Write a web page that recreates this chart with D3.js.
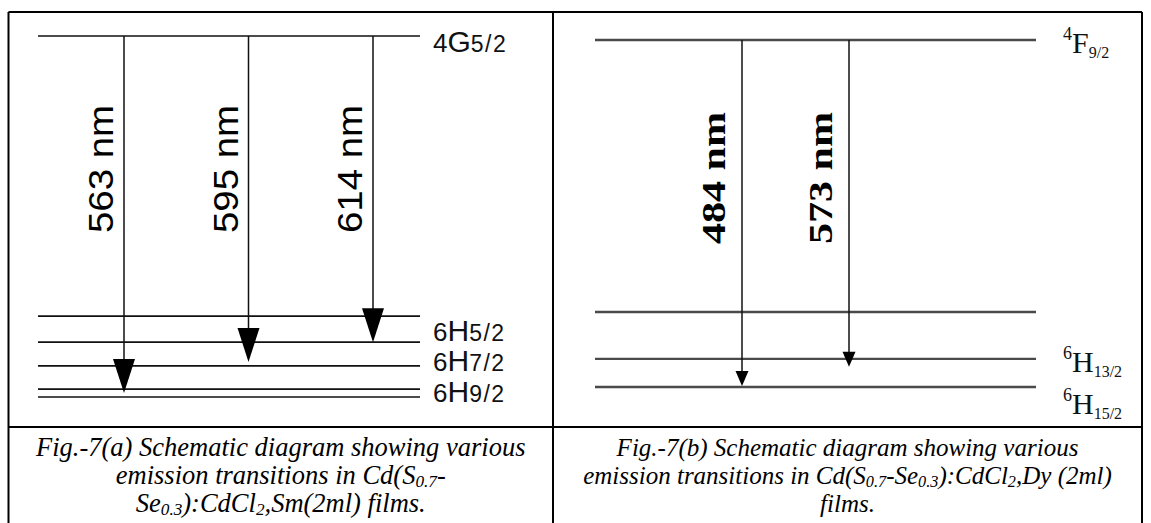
<!DOCTYPE html>
<html>
<head>
<meta charset="utf-8">
<script src="https://cdn.jsdelivr.net/npm/d3@7"></script>
<style>
  body { margin: 0; background: #fff; }
  svg { display: block; }
</style>
</head>
<body>
<svg id="chart" width="1151" height="523"></svg>
<script>
// (a) Sm3+ : schematic level heights, arbitrary units (upper level = 100)
const smLevels = [100, 22.4, 15.2, 8.6, 2.2, 0]
const smTerms = ['4G5/2', '6H5/2', '6H7/2', '6H9/2']
const smTermAt = [98.3, 18.3, 10.0, 1.4]
const smLines = ['563 nm', '595 nm', '614 nm']
const smLineTo = [1.1, 9.7, 15.2]

// (b) Dy3+
const dyLevels = [100, 21.6, 8.1, 0]
const dyTerms = ['4F9/2', '6H13/2', '6H15/2']
const dyTermAt = [99.1, 7.3, -4.8]
const dyLines = ['484 nm', '573 nm']
const dyLineTo = [0.3, 5.8]

const captionA = [
  'Fig.-7(a) Schematic diagram showing various',
  'emission transitions in Cd(S_{0.7}-',
  'Se_{0.3}):CdCl_{2},Sm(2ml) films.',
]
const captionB = [
  'Fig.-7(b) Schematic diagram showing various',
  'emission transitions in Cd(S_{0.7}-Se_{0.3}):CdCl_{2},Dy (2ml)',
  'films.',
]

const tableLeft = 8.5
const tableRight = 1142
const tableTop = 12
const tableMid = 553
const captionTop = 427

const svg = d3.select('#chart')

// table rules
const rules = [
  [tableLeft, tableTop, tableRight, tableTop],
  [tableLeft, captionTop, tableRight, captionTop],
  [tableLeft, tableTop, tableLeft, 523],
  [tableMid, tableTop, tableMid, 523],
  [tableRight, tableTop, tableRight, 523],
]
svg
  .append('g')
  .selectAll('line')
  .data(rules)
  .join('line')
  .attr('x1', (d) => d[0])
  .attr('y1', (d) => d[1])
  .attr('x2', (d) => d[2])
  .attr('y2', (d) => d[3])
  .attr('stroke', '#000')
  .attr('stroke-width', 2)

const splitTerm = (s) => s.match(/^(\d)([A-Z])(.+)$/).slice(1)

function drawPanel(p) {
  const g = svg.append('g')
  const y = d3.scaleLinear().domain([0, 100]).range(p.yRange)
  const x = d3.scalePoint().domain(p.lines).range(p.arrowRange)

  g.append('g')
    .selectAll('line')
    .data(p.levels)
    .join('line')
    .attr('x1', p.levelX[0])
    .attr('x2', p.levelX[1])
    .attr('y1', (d) => y(d))
    .attr('y2', (d) => y(d))
    .attr('stroke', p.levelColor)
    .attr('stroke-width', p.levelWidth)

  const arrows = g
    .append('g')
    .selectAll('g')
    .data(p.lines.map((name, i) => ({ name, to: p.lineTo[i] })))
    .join('g')

  arrows
    .append('line')
    .attr('x1', (d) => x(d.name))
    .attr('x2', (d) => x(d.name))
    .attr('y1', y(100))
    .attr('y2', (d) => y(d.to) - p.head[1] + 2)
    .attr('stroke', '#111')
    .attr('stroke-width', 1.5)

  arrows
    .append('path')
    .attr('d', (d) => {
      const cx = x(d.name)
      const tip = y(d.to)
      const w = p.head[0] / 2
      return `M${cx - w},${tip - p.head[1]}L${cx + w},${tip - p.head[1]}L${cx},${tip}Z`
    })
    .attr('fill', '#000')

  arrows
    .append('text')
    .attr(
      'transform',
      (d) => `translate(${x(d.name) - p.labelGap},${y(100) + p.labelTop}) rotate(-90)`
    )
    .attr('text-anchor', 'end')
    .attr('font-family', p.nmFont)
    .attr('font-weight', p.nmWeight)
    .attr('font-size', p.nmSize)
    .attr('textLength', p.nmLength)
    .attr('lengthAdjust', 'spacingAndGlyphs')
    .attr('fill', '#000')
    .text((d) => d.name)

  const terms = g
    .append('g')
    .selectAll('text')
    .data(p.terms.map((t, i) => ({ parts: splitTerm(t), at: p.termAt[i] })))
    .join('text')
    .attr('x', p.termX)
    .attr('y', (d) => y(d.at) + 10)
    .attr('font-family', p.termFont)
    .attr('fill', '#111')

  p.termStyle(terms)
}

drawPanel({
  levels: smLevels,
  terms: smTerms,
  termAt: smTermAt,
  lines: smLines,
  lineTo: smLineTo,
  yRange: [397, 36],
  levelX: [38, 420],
  arrowRange: [124, 373],
  levelColor: '#111',
  levelWidth: 1.7,
  head: [22, 34],
  labelGap: 11,
  labelTop: 69,
  nmFont: '"Liberation Sans", Arial, sans-serif',
  nmWeight: 'normal',
  nmSize: 35,
  nmLength: 128,
  termX: 433,
  termFont: '"Liberation Sans", Arial, sans-serif',
  termStyle: (sel) => {
    sel.append('tspan').attr('font-size', 26).text((d) => d.parts[0])
    sel.append('tspan').attr('font-size', 30).text((d) => d.parts[1])
    sel
      .append('tspan')
      .attr('font-size', 23)
      .attr('letter-spacing', 1.5)
      .text((d) => d.parts[2])
  },
})

drawPanel({
  levels: dyLevels,
  terms: dyTerms,
  termAt: dyTermAt,
  lines: dyLines,
  lineTo: dyLineTo,
  yRange: [387, 40],
  levelX: [595, 1036],
  arrowRange: [742, 849],
  levelColor: '#4a4a4a',
  levelWidth: 2.4,
  head: [13, 15],
  labelGap: 17,
  labelTop: 72,
  nmFont: '"Liberation Serif", "Times New Roman", serif',
  nmWeight: 'bold',
  nmSize: 33,
  nmLength: 132,
  termX: 1063,
  termFont: '"Liberation Serif", "Times New Roman", serif',
  termStyle: (sel) => {
    sel
      .append('tspan')
      .attr('font-size', 18)
      .attr('dy', -13)
      .text((d) => d.parts[0])
    sel
      .append('tspan')
      .attr('font-size', 30)
      .attr('dy', 13)
      .text((d) => d.parts[1])
    sel
      .append('tspan')
      .attr('font-size', 16)
      .attr('dy', 5)
      .text((d) => d.parts[2])
  },
})

// captions, "_{...}" marks a subscript
function drawCaption(lines, cx, size) {
  const text = svg
    .append('g')
    .selectAll('text')
    .data(lines)
    .join('text')
    .attr('x', cx)
    .attr('y', (d, i) => 456 + i * 28)
    .attr('text-anchor', 'middle')
    .attr('font-family', '"Liberation Serif", "Times New Roman", serif')
    .attr('font-style', 'italic')
    .attr('font-size', size)
    .attr('fill', '#000')

  const drop = Math.round(size * 0.12)
  text.each(function (line) {
    const t = d3.select(this)
    const parts = line.split(/(_\{[^}]*\})/).filter((s) => s.length)
    let shifted = false
    for (const part of parts) {
      const sub = part.startsWith('_{')
      const span = t.append('tspan').text(sub ? part.slice(2, -1) : part)
      if (sub) {
        span.attr('font-size', size * 0.65).attr('dy', shifted ? 0 : drop)
        shifted = true
      } else {
        if (shifted) span.attr('dy', -drop)
        shifted = false
      }
    }
  })
}

drawCaption(captionA, (tableLeft + tableMid) / 2, 26.5)
drawCaption(captionB, (tableMid + tableRight) / 2, 25)
</script>
</body>
</html>
